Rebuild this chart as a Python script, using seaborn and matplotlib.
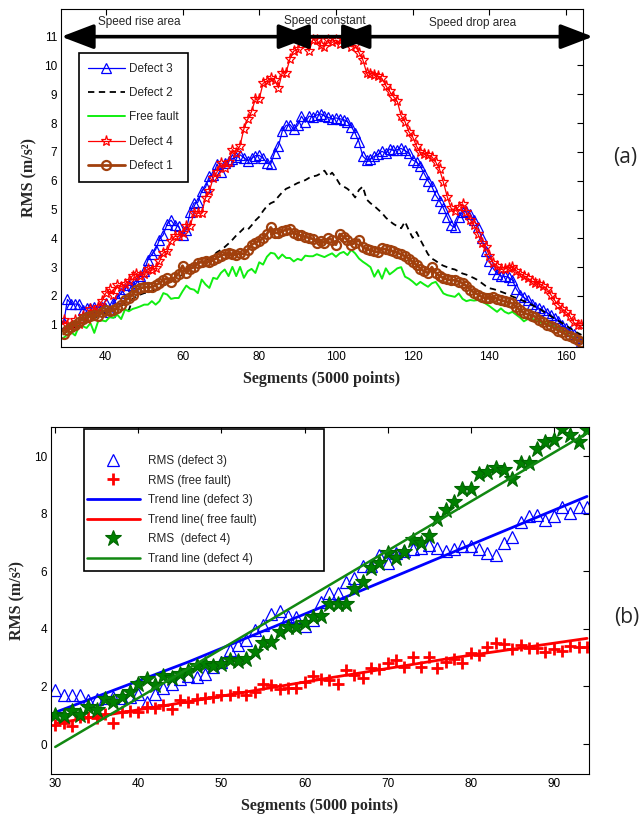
import numpy as np
import matplotlib
matplotlib.use("Agg")
import matplotlib.pyplot as plt
from matplotlib.patches import Rectangle
import seaborn as sns

# ---------------- data ----------------
segments = list(range(29, 165))

defect3 = [1.05,
    1.88, 1.72, 1.72, 1.72, 1.53, 1.58, 1.60, 1.62, 1.60, 1.62,
    1.74, 1.45, 1.74, 1.93, 2.10, 2.25, 2.38, 2.33, 2.45, 2.69,
    2.86, 3.26, 3.44, 3.61, 3.96, 4.13, 4.50, 4.63, 4.45, 4.42,
    4.10, 4.30, 4.92, 5.23, 5.25, 5.64, 5.77, 6.17, 6.20, 6.58,
    6.30, 6.62, 6.70, 6.77, 6.82, 6.90, 6.80, 6.70, 6.78, 6.87,
    6.88, 6.78, 6.62, 6.58, 6.97, 7.20, 7.72, 7.92, 7.95, 7.78,
    7.92, 8.24, 8.03, 8.24, 8.22,
    8.28, 8.32, 8.25, 8.20, 8.15, 8.18, 8.15, 8.12, 8.05, 7.88,
    7.65, 7.35, 6.85, 6.72, 6.75, 6.85, 6.92, 7.02, 6.95, 7.10,
    7.05, 7.08, 7.12, 7.05, 6.95, 6.72, 6.65, 6.50, 6.25, 6.00,
    5.80, 5.50, 5.30, 5.05, 4.75, 4.45, 4.38, 4.75, 4.90, 4.95,
    4.85, 4.62, 4.40, 4.00, 3.55, 3.20, 2.95, 2.78, 2.70, 2.68,
    2.65, 2.55, 2.25, 2.05, 1.95, 1.85, 1.72, 1.62, 1.57, 1.50,
    1.42, 1.35, 1.22, 1.12, 0.98, 0.90, 0.80, 0.68, 0.55, 0.42]

defect2 = [0.70,
    0.78, 0.85, 0.92, 1.00, 1.08, 1.13, 1.20, 1.25, 1.30, 1.36,
    1.40, 1.45, 1.50, 1.55, 1.65, 1.75, 1.50, 1.90, 2.00, 2.05,
    2.10, 2.12, 2.18, 2.22, 2.30, 2.36, 2.42, 2.50, 2.58, 2.65,
    2.75, 2.88, 2.95, 3.05, 3.12, 3.20, 3.25, 3.30, 3.40, 3.52,
    3.60, 3.70, 3.82, 3.95, 4.10, 4.22, 4.35, 4.30, 4.45, 4.62,
    4.75, 4.95, 5.12, 5.22, 5.28, 5.45, 5.60, 5.72, 5.78, 5.85,
    5.92, 5.97, 6.02, 6.10, 6.15, 6.18, 6.25, 6.35, 6.15, 6.28,
    6.10, 5.88, 5.80, 5.72, 5.60, 5.42, 5.68, 5.80, 5.35, 5.22,
    5.12, 5.00, 4.88, 4.72, 4.60, 4.50, 4.42, 4.35, 4.58, 4.28,
    4.02, 4.22, 3.95, 3.70, 3.45, 3.30, 3.22, 3.12, 3.05, 3.00,
    2.95, 2.92, 2.85, 2.78, 2.74, 2.68, 2.62, 2.55, 2.45, 2.35,
    2.27, 2.24, 2.20, 2.15, 2.10, 2.05, 1.98, 1.93, 1.88, 1.82,
    1.76, 1.70, 1.62, 1.56, 1.47, 1.39, 1.30, 1.22, 1.14, 1.06,
    0.97, 0.88, 0.80, 0.72, 0.65]

free_fault = [0.55,
    0.66, 0.74, 0.63, 0.95, 0.95, 0.89, 1.06, 0.72, 1.12, 1.15,
    1.12, 1.27, 1.24, 1.35, 1.20, 1.53, 1.47, 1.55, 1.59, 1.64,
    1.70, 1.70, 1.82, 1.70, 1.82, 2.10, 2.05, 1.90, 1.93, 1.93,
    2.16, 2.36, 2.25, 2.22, 2.10, 2.57, 2.40, 2.28, 2.63, 2.59,
    2.80, 2.92, 2.69, 3.01, 2.69, 3.01, 2.63, 2.86, 2.94, 2.80,
    3.17, 3.09, 3.36, 3.50, 3.47, 3.29, 3.44, 3.32, 3.32, 3.20,
    3.29, 3.24, 3.40, 3.38, 3.38,
    3.45, 3.40, 3.35, 3.42, 3.48, 3.36, 3.48, 3.53, 3.42, 3.60,
    3.48, 3.30, 3.19, 3.10, 3.00, 2.67, 2.90, 2.60, 2.96, 2.75,
    2.85, 2.96, 3.00, 2.67, 2.60, 2.50, 2.38, 2.49, 2.40, 2.32,
    2.44, 2.49, 2.30, 2.09, 2.03, 2.00, 1.97, 2.09, 1.90, 1.82,
    1.86, 1.84, 1.86, 1.80, 1.74, 1.65, 1.55, 1.45, 1.57, 1.45,
    1.39, 1.45, 1.35, 1.25, 1.12, 1.20, 1.22, 1.16, 1.10, 1.05,
    1.05, 1.00, 0.93, 0.85, 0.80, 0.68, 0.62, 0.56, 0.45, 0.41]

defect4 = [1.15,
    1.00, 0.96, 1.15, 1.02, 1.30, 1.19, 1.56, 1.45, 1.62, 1.82,
    2.10, 2.25, 2.05, 2.38, 2.31, 2.42, 2.53, 2.71, 2.78, 2.71,
    2.78, 2.92, 2.89, 2.97, 3.20, 3.50, 3.55, 3.90, 4.07, 4.07,
    4.19, 4.42, 4.44, 4.88, 4.88, 4.88, 5.40, 5.64, 6.10, 6.30,
    6.62, 6.45, 6.66, 7.08, 6.97, 7.22, 7.80, 8.13, 8.40, 8.84,
    8.84, 9.38, 9.46, 9.57, 9.51, 9.22, 9.75, 9.75, 10.23, 10.50,
    10.56, 10.93, 10.73, 10.50, 10.90,
    10.88, 10.70, 10.65, 10.90, 10.80, 10.88, 10.75, 10.92, 10.80, 10.65,
    10.70, 10.45, 10.20, 9.75, 9.72, 9.68, 9.62, 9.55, 9.30, 9.10,
    8.92, 8.75, 8.25, 8.05, 7.70, 7.52, 7.20, 6.98, 6.92, 6.88,
    6.83, 6.65, 6.40, 5.95, 5.45, 5.05, 4.95, 5.10, 5.20, 4.92,
    4.65, 4.45, 4.15, 3.85, 3.70, 3.40, 3.15, 3.05, 2.92, 2.95,
    2.97, 3.00, 2.88, 2.78, 2.70, 2.62, 2.52, 2.45, 2.43, 2.35,
    2.25, 2.05, 1.85, 1.70, 1.55, 1.45, 1.30, 1.08, 1.00, 0.98]

defect1 = [0.68,
    0.82, 0.92, 1.00, 1.10, 1.20, 1.28, 1.30, 1.35, 1.30, 1.45,
    1.50, 1.48, 1.50, 1.58, 1.70, 1.85, 1.92, 2.05, 2.20, 2.28,
    2.30, 2.32, 2.30, 2.38, 2.45, 2.55, 2.62, 2.50, 2.65, 2.78,
    3.05, 2.80, 2.95, 3.00, 3.15, 3.18, 3.20, 3.18, 3.25, 3.32,
    3.40, 3.45, 3.50, 3.45, 3.42, 3.50, 3.45, 3.60, 3.78, 3.85,
    3.92, 4.00, 4.15, 4.38, 4.20, 4.18, 4.25, 4.30, 4.32, 4.20,
    4.12, 4.10, 4.05, 4.02, 3.98, 3.85, 3.92, 3.85, 4.00, 3.95,
    3.78, 4.15, 4.05, 3.95, 3.78, 3.85, 3.95, 3.70, 3.62, 3.60,
    3.55, 3.52, 3.65, 3.62, 3.58, 3.55, 3.50, 3.45, 3.38, 3.30,
    3.18, 3.08, 2.95, 2.85, 2.80, 3.00, 2.80, 2.70, 2.62, 2.58,
    2.55, 2.55, 2.50, 2.45, 2.35, 2.22, 2.12, 2.05, 1.97, 1.92,
    1.93, 1.97, 1.90, 1.85, 1.82, 1.78, 1.74, 1.62, 1.50, 1.42,
    1.36, 1.32, 1.28, 1.18, 1.08, 1.00, 0.95, 0.88, 0.80, 0.74,
    0.66, 0.60, 0.53, 0.46, 0.41]

# second panel: segments 30..94 of the same records, plus trend lines
seg_b_start, seg_b_end = 30, 94
trend_x = [30, 46, 62, 78, 94]
trend_defect3 = [1.10, 2.85, 4.75, 6.68, 8.60]
trend_free = [0.72, 1.47, 2.25, 3.00, 3.67]
trend_defect4 = [-0.10, 2.62, 5.35, 8.08, 10.80]

top_xticks = [40, 60, 80, 100, 120, 140, 160]
top_yticks = list(range(1, 12))
bot_xticks = [30, 40, 50, 60, 70, 80, 90]
bot_yticks = [0, 2, 4, 6, 8, 10]

zones = ["Speed rise area", "Speed constant", "Speed drop area"]

# ---------------- figure ----------------
sns.set_style("white")
plt.rcParams['font.family'] = ['Liberation Sans', 'DejaVu Sans']

fig = plt.figure(figsize=(6.41, 8.18), dpi=100)
W, H = 641, 818

def axes_px(l, t, r, b):
    return fig.add_axes([l / W, 1 - b / H, (r - l) / W, (b - t) / H])

ax1 = axes_px(61.3, 9, 582.6, 346.7)
ax2 = axes_px(51.1, 427.3, 588.7, 774)

BROWN = (0.63, 0.25, 0.05)

# ---- top panel ----
sns.lineplot(x=segments, y=defect3, ax=ax1, color='blue', lw=0.9, marker='^',
             markersize=7.5, markerfacecolor='none', markeredgecolor='blue',
             markeredgewidth=0.9, label='Defect 3', sort=False, estimator=None)
sns.lineplot(x=segments, y=defect2, ax=ax1, color='black', lw=1.3,
             linestyle=(0, (3.5, 2.5)), label='Defect 2', sort=False, estimator=None)
sns.lineplot(x=segments, y=free_fault, ax=ax1, color='#11ee11', lw=1.4,
             label='Free fault', sort=False, estimator=None)
sns.lineplot(x=segments, y=defect4, ax=ax1, color='red', lw=0.9, marker='*',
             markersize=8, markerfacecolor='none', markeredgecolor='red',
             markeredgewidth=0.9, label='Defect 4', sort=False, estimator=None)
sns.lineplot(x=segments, y=defect1, ax=ax1, color=BROWN, lw=2.0, marker='o',
             markersize=6.5, markerfacecolor='none', markeredgecolor=BROWN,
             markeredgewidth=1.6, label='Defect 1', sort=False, estimator=None)

ax1.set_xlim(28.4, 164.3)
ax1.set_ylim(0.24, 11.96)
ax1.set_xticks(top_xticks)
ax1.set_yticks(top_yticks)

leg1 = ax1.legend(loc='upper left', bbox_to_anchor=(0.033, 0.869), fontsize=8.5,
                  frameon=True, fancybox=False, edgecolor='black', framealpha=1,
                  handlelength=3.1, handletextpad=0.4, labelspacing=1.05,
                  borderpad=0.8, borderaxespad=0)
leg1.get_frame().set_linewidth(1.2)

# zone arrows
arrow_style = '<|-|>,head_length=1.1,head_width=0.42'
for (xa, xb) in [(28.4, 93.5), (84.5, 110.3), (100.3, 167.0)]:
    ax1.annotate('', xy=(xb, 11), xytext=(xa, 11),
                 arrowprops=dict(arrowstyle=arrow_style, lw=2.6, color='black',
                                 shrinkA=0, shrinkB=0, mutation_scale=18),
                 annotation_clip=False, zorder=6)
for txt, xc, yc in zip(zones, [48.7, 97.2, 135.5], [11.5, 11.55, 11.48]):
    ax1.text(xc, yc, txt, ha='center', va='center', fontsize=8.5, zorder=7)

ax1.set_xlabel('Segments (5000 points)', family=['Liberation Serif'],
               fontweight='bold', fontsize=11.5, labelpad=6)
ax1.set_ylabel('RMS (m/s²)', family=['Liberation Serif'],
               fontweight='bold', fontsize=11.5, labelpad=5)

# ---- bottom panel ----
i0 = segments.index(seg_b_start)
i1 = segments.index(seg_b_end) + 1
seg_b = segments[i0:i1]

sns.lineplot(x=seg_b, y=defect3[i0:i1], ax=ax2, color='blue', linestyle='',
             marker='^', markersize=8.5, markerfacecolor='none',
             markeredgecolor='blue', markeredgewidth=0.9,
             label='RMS (defect 3)', sort=False, estimator=None)
sns.lineplot(x=seg_b, y=free_fault[i0:i1], ax=ax2, color='red', linestyle='',
             marker='+', markersize=8, markeredgecolor='red', markeredgewidth=2.0,
             label='RMS (free fault)', sort=False, estimator=None)
sns.lineplot(x=trend_x, y=trend_defect3, ax=ax2, color='blue', lw=2.0,
             label='Trend line (defect 3)', sort=False, estimator=None)
sns.lineplot(x=trend_x, y=trend_free, ax=ax2, color='red', lw=2.0,
             label='Trend line( free fault)', sort=False, estimator=None)
sns.lineplot(x=seg_b, y=defect4[i0:i1], ax=ax2, color='green', linestyle='',
             marker='*', markersize=12, markerfacecolor='green',
             markeredgecolor='#006600', markeredgewidth=0.8,
             label='RMS  (defect 4)', sort=False, estimator=None)
sns.lineplot(x=trend_x, y=trend_defect4, ax=ax2, color='#118811', lw=1.8,
             label='Trand line (defect 4)', sort=False, estimator=None)

ax2.set_xlim(29.5, 94.2)
ax2.set_ylim(-1.04, 11.0)
ax2.set_xticks(bot_xticks)
ax2.set_yticks(bot_yticks)

leg2 = ax2.legend(loc='upper left', bbox_to_anchor=(0.066, 0.92), fontsize=8.5,
                  frameon=False, handlelength=4.5, handletextpad=0.7,
                  labelspacing=0.64, borderpad=0, borderaxespad=0)
fig.patches.append(Rectangle((83.8 / W, 1 - 571 / H), (324 - 83.8) / W, (571 - 429.3) / H,
                             transform=fig.transFigure, fill=False,
                             edgecolor='black', lw=1.2, zorder=10))

ax2.set_xlabel('Segments (5000 points)', family=['Liberation Serif'],
               fontweight='bold', fontsize=11.5, labelpad=6)
ax2.set_ylabel('RMS (m/s²)', family=['Liberation Serif'],
               fontweight='bold', fontsize=11.5, labelpad=6)

for ax in (ax1, ax2):
    for s in ax.spines.values():
        s.set_visible(True)
        s.set_color('black')
        s.set_linewidth(0.8)
    ax.tick_params(direction='in', length=4, width=0.8, top=True, right=True,
                   labelsize=8.5, colors='black', pad=3)

fig.text(613 / W, 1 - 157 / H, '(a)', fontsize=15, family=['Open Sans', 'DejaVu Sans'],
         ha='left', va='center')
fig.text(614 / W, 1 - 617 / H, '(b)', fontsize=15, family=['Open Sans', 'DejaVu Sans'],
         ha='left', va='center')

fig.savefig('out.png', dpi=100)
